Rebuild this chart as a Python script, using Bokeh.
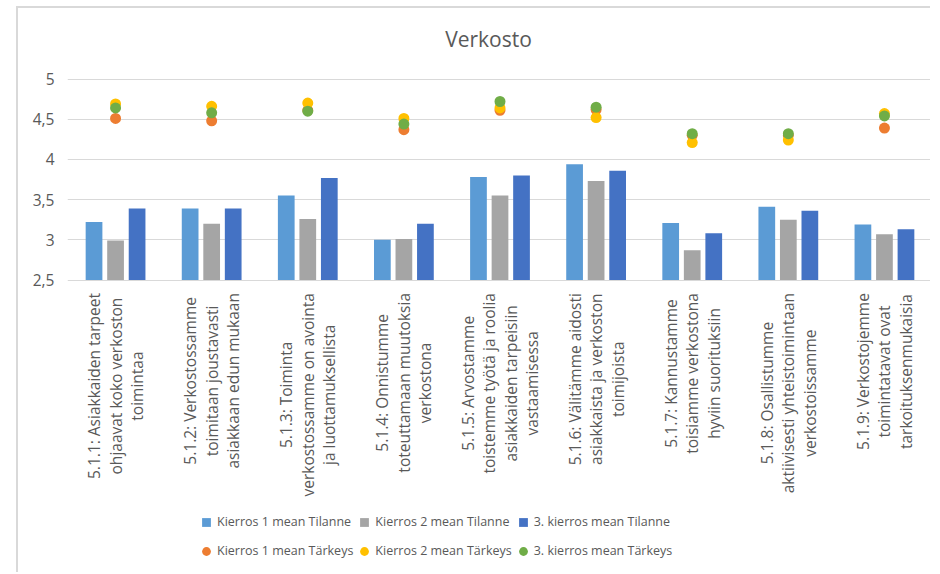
import math
from bokeh.plotting import figure
from bokeh.models import (FactorRange, Range1d, FixedTicker, Legend, LegendItem,
                          ColumnDataSource, LabelSet, Label)
from bokeh.core.properties import value
from bokeh.transform import dodge
from bokeh.embed import file_html
from bokeh.resources import INLINE

# ---------------- data ----------------
categories = [
    "5.1.1: Asiakkaiden tarpeet\nohjaavat koko verkoston\ntoimintaa",
    "5.1.2: Verkostossamme\ntoimitaan joustavasti\nasiakkaan edun mukaan",
    "5.1.3: Toiminta\nverkostossamme on avointa\nja luottamuksellista",
    "5.1.4: Onnistumme\ntoteuttamaan muutoksia\nverkostona",
    "5.1.5: Arvostamme\ntoistemme työtä ja roolia\nasiakkaiden tarpeisiin\nvastaamisessa",
    "5.1.6: Välitämme aidosti\nasiakkaista ja verkoston\ntoimijoista",
    "5.1.7: Kannustamme\ntoisiamme verkostona\nhyviin suorituksiin",
    "5.1.8: Osallistumme\naktiivisesti yhteistoimintaan\nverkostoissamme",
    "5.1.9: Verkostojemme\ntoimintatavat ovat\ntarkoituksenmukaisia",
]

k1_tilanne = [3.22, 3.39, 3.55, 3.00, 3.78, 3.94, 3.21, 3.41, 3.19]
k2_tilanne = [2.99, 3.20, 3.26, 3.01, 3.55, 3.73, 2.87, 3.25, 3.07]
k3_tilanne = [3.39, 3.39, 3.77, 3.20, 3.80, 3.86, 3.08, 3.36, 3.13]

k1_tarkeys = [4.51, 4.48, 4.61, 4.37, 4.61, 4.62, 4.30, 4.30, 4.39]
k2_tarkeys = [4.69, 4.66, 4.70, 4.51, 4.64, 4.52, 4.21, 4.24, 4.57]
k3_tarkeys = [4.64, 4.58, 4.60, 4.44, 4.72, 4.65, 4.32, 4.32, 4.54]

bar_names = ["Kierros 1 mean Tilanne", "Kierros 2 mean Tilanne", "3. kierros mean Tilanne"]
dot_names = ["Kierros 1 mean Tärkeys", "Kierros 2 mean Tärkeys", "3. kierros mean Tärkeys"]

y_ticks = [2.5, 3, 3.5, 4, 4.5, 5]
y_tick_labels = ["2,5", "3", "3,5", "4", "4,5", "5"]
y_min, y_max = 2.5, 5.0
title_text = "Verkosto"

# ---------------- styling / layout ----------------
bar_colors = ["#5B9BD5", "#A5A5A5", "#4472C4"]
dot_colors = ["#ED7D31", "#FFC000", "#70AD47"]
text_color = "#595959"
grid_color = "#D9D9D9"
FONT = "Open Sans"
CAT_FONT_PX = 15.5
LINE_PITCH = 21.5
LABEL_GAP = 13

CANVAS_W, CANVAS_H = 914, 566
FRAME_LEFT = 49
DATA_TOP_PX = 70.5                 # canvas y of the value 5
DATA_PX = 201                      # pixel height of the 2.5 .. 5 value band
TITLE_CX, TITLE_CY = 470, 30       # canvas position of the title centre
px_per_unit = DATA_PX / (y_max - y_min)
y_end = y_max + DATA_TOP_PX / px_per_unit
y_start = y_min - (CANVAS_H - DATA_TOP_PX - DATA_PX) / px_per_unit

# approximate Open Sans advance widths (em) for layout of rotated labels
_W = {" ": .26, ".": .266, ":": .266, ",": .266, "a": .556, "b": .613, "c": .476,
      "d": .613, "e": .561, "f": .339, "g": .548, "h": .614, "i": .253, "j": .253,
      "k": .525, "l": .253, "m": .930, "n": .614, "o": .604, "p": .613, "r": .408,
      "s": .477, "t": .353, "u": .614, "v": .501, "y": .501, "ä": .556, "ö": .604,
      "A": .633, "V": .593, "T": .551, "O": .781, "K": .575}


def text_px(s, size):
    return sum(_W.get(ch, .572 if ch.isdigit() else .55) for ch in s) * size


source = ColumnDataSource(data=dict(
    cat=categories,
    k1t=k1_tilanne, k2t=k2_tilanne, k3t=k3_tilanne,
    k1k=k1_tarkeys, k2k=k2_tarkeys, k3k=k3_tarkeys,
))

p = figure(
    x_range=FactorRange(*categories),
    y_range=Range1d(y_start, y_end),
    width=CANVAS_W, height=CANVAS_H,
    x_axis_location=None,
    output_backend="svg", toolbar_location=None,
    min_border_left=FRAME_LEFT, min_border_right=0,
    min_border_top=0, min_border_bottom=0,
)
p.styles = {"margin-left": "16px", "margin-top": "6px",
            "border-left": f"2px solid {grid_color}",
            "border-top": f"2px solid {grid_color}"}

# title
p.add_layout(Label(
    x=TITLE_CX - FRAME_LEFT, y=CANVAS_H - TITLE_CY, x_units="screen", y_units="screen",
    text=title_text, text_align="center", text_baseline="middle",
    text_font=FONT, text_font_size="21px", text_color=text_color))

bar_w = 0.174
off = 0.224
bar_fields = ["k1t", "k2t", "k3t"]
for i, (f, c) in enumerate(zip(bar_fields, bar_colors)):
    p.vbar(x=dodge("cat", (i - 1) * off, range=p.x_range), top=f, bottom=y_min,
           width=bar_w, source=source, fill_color=c, line_color=None)

dot_fields = ["k1k", "k2k", "k3k"]
dot_renderers = []
for f, c in zip(dot_fields, dot_colors):
    dot_renderers.append(p.scatter(x="cat", y=f, source=source, size=11, marker="circle",
                                   fill_color=c, line_color=None))

# rotated, centred multi-line category labels (one row per text line)
lab = dict(cat=[], text=[], ys=[], xo=[])
for cat in categories:
    lines = cat.split("\n")
    longest = max(text_px(s, CAT_FONT_PX) for s in lines)
    n = len(lines)
    for j, s in enumerate(lines):
        lab["cat"].append(cat)
        lab["text"].append(s)
        lab["ys"].append(y_min - (LABEL_GAP + longest / 2) / px_per_unit)
        lab["xo"].append((j - (n - 1) / 2) * LINE_PITCH)
lab_src = ColumnDataSource(data=lab)
p.add_layout(LabelSet(
    x=dodge("cat", 0, range=p.x_range), y="ys", x_offset="xo",
    text="text", source=lab_src, angle=math.pi / 2,
    text_align="center", text_baseline="middle",
    text_font=value(FONT), text_font_size=value(f"{CAT_FONT_PX}px"),
    text_color=text_color))

# legend: square swatches for the bar series (zero-size markers on the bar data)
items = []
for f, n, c in zip(bar_fields, bar_names, bar_colors):
    r = p.scatter(x="cat", y=f, source=source, marker="square", size=0,
                  fill_color=c, line_color=None)
    items.append(LegendItem(label=n, renderers=[r]))
for n, r in zip(dot_names, dot_renderers):
    items.append(LegendItem(label=n, renderers=[r]))

legend = Legend(items=items, orientation="horizontal", ncols=3,
                glyph_width=22, glyph_height=22, label_standoff=0,
                spacing=0, padding=4, margin=0, label_height=29,
                label_text_font=FONT, label_text_font_size="12.5px",
                label_text_color=text_color, border_line_color=None,
                background_fill_alpha=0, location=(128, 9))
p.add_layout(legend)

# axes
p.yaxis.ticker = FixedTicker(ticks=y_ticks)
p.yaxis.major_label_overrides = {t: l for t, l in zip(y_ticks, y_tick_labels)}
p.yaxis.axis_line_color = None
p.yaxis.major_tick_line_color = None
p.yaxis.minor_tick_line_color = None
p.yaxis.major_label_standoff = 7
p.yaxis.major_label_text_font = FONT
p.yaxis.major_label_text_font_size = "15.5px"
p.yaxis.major_label_text_color = text_color

p.xgrid.visible = False
p.ygrid.grid_line_color = grid_color
p.ygrid.grid_line_width = 1
p.outline_line_color = None

open("out.html", "w").write(file_html(p, INLINE))
